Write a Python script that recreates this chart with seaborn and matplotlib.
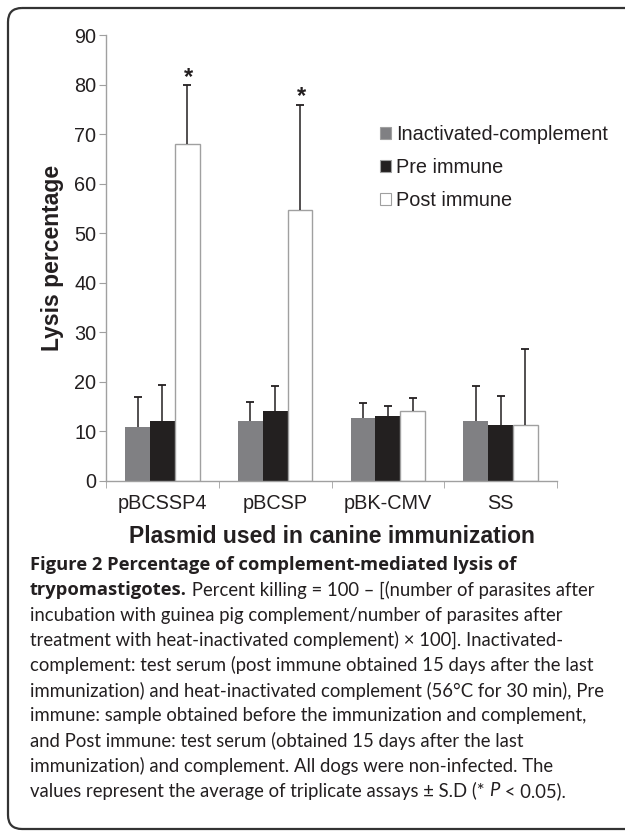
import matplotlib
matplotlib.use('Agg')
import matplotlib.pyplot as plt
import pandas as pd
import seaborn as sns
from matplotlib.patches import FancyBboxPatch

# Data
plasmids = ['pBCSSP4', 'pBCSP', 'pBK-CMV', 'SS']
groups = ['Inactivated-complement', 'Pre immune', 'Post immune']
inactivated = [10.9, 12.0, 12.6, 12.1]
pre_immune = [12.0, 14.0, 13.1, 11.2]
post_immune = [68.0, 54.6, 14.1, 11.2]
inactivated_sd = [6.0, 3.9, 3.0, 7.0]
pre_immune_sd = [7.2, 5.1, 2.0, 5.9]
post_immune_sd = [11.8, 21.3, 2.6, 15.4]
significant = [True, True, False, False]  # asterisk over post immune bars
y_ticks = [0, 10, 20, 30, 40, 50, 60, 70, 80, 90]

colors = ['#808083', '#231f20', '#ffffff']

df = pd.DataFrame({
    'plasmid': plasmids * 3,
    'group': [g for g in groups for _ in plasmids],
    'value': inactivated + pre_immune + post_immune,
})
sds = [inactivated_sd, pre_immune_sd, post_immune_sd]

sns.set_style('white')
plt.rcParams['font.family'] = ['Liberation Sans', 'DejaVu Sans']

fig = plt.figure(figsize=(6.25, 8.31), dpi=100)
ax = fig.add_axes([106 / 625, 1 - 480.5 / 831, 451 / 625, 445.5 / 831])

sns.barplot(data=df, x='plasmid', y='value', hue='group', hue_order=groups,
            palette=colors, width=0.66, errorbar=None, ax=ax,
            edgecolor='#a0a0a0', linewidth=0, legend=True)

# Outline only the white bars, error bars upward only
bar_conts = list(ax.containers)
for i, cont in enumerate(bar_conts):
    for j, bar in enumerate(cont.patches):
        if i == 2:
            bar.set_edgecolor('#a0a0a0')
            bar.set_linewidth(1.0)
        x = bar.get_x() + bar.get_width() / 2
        top = bar.get_height()
        eb = ax.errorbar(x, top, yerr=[[0], [sds[i][j]]], fmt='none',
                         ecolor='#231f20', elinewidth=1.1, capsize=2.7,
                         capthick=1.3, zorder=3)
        eb.lines[1][0].set_visible(False)  # no cap at the bar top
        if i == 2 and significant[j]:
            ax.text(x + 0.01, top + sds[i][j] + 0.35, '*', ha='center', va='baseline',
                    fontsize=17, fontweight='bold', color='#231f20')

ax.set_ylim(0, 90)
ax.set_xlim(-0.5, 3.5)
ax.set_yticks(y_ticks)
ax.set_xticks([-0.5, 0.5, 1.5, 2.5, 3.5], minor=True)
ax.tick_params(axis='y', which='major', left=True, length=5, color='#a0a0a0',
               labelsize=14.3, pad=2, labelcolor='#231f20')
ax.tick_params(axis='x', which='major', bottom=False, labelsize=14.3, pad=6,
               labelcolor='#231f20')
ax.tick_params(axis='x', which='minor', bottom=True, length=5, color='#a0a0a0')
for side in ['top', 'right']:
    ax.spines[side].set_visible(False)
for side in ['left', 'bottom']:
    ax.spines[side].set_color('#a0a0a0')
    ax.spines[side].set_linewidth(1.0)

ax.set_ylabel('Lysis percentage', fontsize=16.5, fontweight='bold',
              color='#231f20', labelpad=7)
ax.set_xlabel('Plasmid used in canine immunization', fontsize=16.5,
              fontweight='bold', color='#231f20', labelpad=9)

leg = ax.legend(loc='upper left', bbox_to_anchor=(380 / 625, 1 - 125 / 831),
                bbox_transform=fig.transFigure, frameon=False, fontsize=14.3,
                handlelength=0.55, handleheight=0.55, handletextpad=0.25,
                labelspacing=0.7, borderaxespad=0, borderpad=0)
for h in leg.legend_handles:
    h.set_edgecolor('#a0a0a0')
    h.set_linewidth(0.8)
for t in leg.get_texts():
    t.set_color('#231f20')

# Frame round the figure panel
frame_ax = fig.add_axes([0, 0, 1, 1], zorder=-1)
frame_ax.set_xlim(0, 625)
frame_ax.set_ylim(831, 0)
frame_ax.axis('off')
frame_ax.add_patch(FancyBboxPatch((8, 8), 660, 821, boxstyle='round,pad=0,rounding_size=14',
                                  facecolor='none', edgecolor='#333333', linewidth=1.6))

# Caption
reg_font = ['Lato', 'DejaVu Sans']
bold_font = ['Open Sans', 'DejaVu Sans']
reg_size = 13.35
bold_size = 13.2
line_h = 25.1
first_y = 565
lines = [
    [('Figure 2 Percentage of complement-mediated lysis of', 'bold', 'normal')],
    [('trypomastigotes.', 'bold', 'normal'),
     (' Percent killing = 100 \u2013 [(number of parasites after', 'normal', 'normal')],
    [('incubation with guinea pig complement/number of parasites after', 'normal', 'normal')],
    [('treatment with heat-inactivated complement) \u00d7 100]. Inactivated-', 'normal', 'normal')],
    [('complement: test serum (post immune obtained 15 days after the last', 'normal', 'normal')],
    [('immunization) and heat-inactivated complement (56\u00b0C for 30 min), Pre', 'normal', 'normal')],
    [('immune: sample obtained before the immunization and complement,', 'normal', 'normal')],
    [('and Post immune: test serum (obtained 15 days after the last', 'normal', 'normal')],
    [('immunization) and complement. All dogs were non-infected. The', 'normal', 'normal')],
    [('values represent the average of triplicate assays \u00b1 S.D (* ', 'normal', 'normal'),
     ('P', 'normal', 'italic'), (' < 0.05).', 'normal', 'normal')],
]

renderer = fig.canvas.get_renderer()
for k, parts in enumerate(lines):
    x = 30
    y = first_y + k * line_h
    for txt, weight, style in parts:
        is_bold = weight == 'bold'
        t = frame_ax.text(x, y, txt, fontsize=bold_size if is_bold else reg_size,
                          fontweight=weight, fontstyle=style,
                          family=bold_font if is_bold else reg_font,
                          color='#231f20', va='center', ha='left')
        bb = t.get_window_extent(renderer=renderer)
        x = bb.x1

fig.savefig('out.png', dpi=100)
